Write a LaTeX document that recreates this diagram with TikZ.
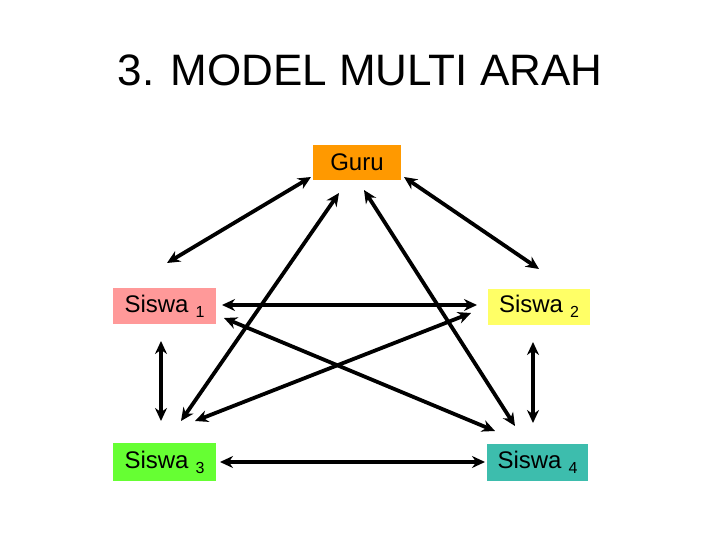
\documentclass[tikz,border=0pt]{standalone}
\usepackage{fontspec}
\setmainfont{Liberation Sans}
\usetikzlibrary{arrows.meta}
\definecolor{guruc}{HTML}{FF9900}
\definecolor{s1c}{HTML}{FF9999}
\definecolor{s2c}{HTML}{FFFF66}
\definecolor{s3c}{HTML}{66FF33}
\definecolor{s4c}{HTML}{3DBDAD}
\newcommand{\sw}[1]{Siswa\hspace{7pt}\raisebox{-5pt}{\fontsize{16}{16}\selectfont #1}}
\tikzset{
  box/.style={inner sep=0pt, minimum height=36pt, font=\fontsize{24}{24}\selectfont},
  link/.style={line width=3.8pt, {Stealth[length=13pt,width=12pt]}-{Stealth[length=13pt,width=12pt]}}
}
\begin{document}
\begin{tikzpicture}[x=1pt,y=-1pt]
\useasboundingbox[fill=white] (0,0) rectangle (720,540);
\node[anchor=base, font=\fontsize{44}{44}\selectfont] (title) at (360,86) {3. MODEL MULTI ARAH};
\node[box, fill=guruc, minimum width=88pt, minimum height=35pt] (guru) at (357,162.5) {Guru};
\node[box, fill=s1c, minimum width=103pt] (s1) at (164.5,306) {\sw{1}};
\node[box, fill=s2c, minimum width=102pt] (s2) at (539,306.5) {\sw{2}};
\node[box, fill=s3c, minimum width=103pt, minimum height=38pt] (s3) at (164.5,462) {\sw{3}};
\node[box, fill=s4c, minimum width=101pt, minimum height=37pt] (s4) at (537.5,462.5) {\sw{4}};
% endpoints
\coordinate (g1) at (311,177);
\coordinate (a1) at (167,263);
\coordinate (g2) at (404,177);
\coordinate (a2) at (539,269);
\coordinate (g3) at (339,193);
\coordinate (a3) at (181,421);
\coordinate (g4) at (364,190);
\coordinate (a4) at (515,426);
\coordinate (p1) at (222,305);
\coordinate (p2) at (477,305);
\coordinate (q1) at (224,318);
\coordinate (q4) at (495,431);
\coordinate (r3) at (195,421);
\coordinate (r2) at (471,313);
\coordinate (v1) at (161,341);
\coordinate (v3) at (161,421);
\coordinate (w2) at (533,342);
\coordinate (w4) at (533,423);
\coordinate (h3) at (220,462);
\coordinate (h4) at (485,462);
\draw[link] (g1) -- (a1);
\draw[link] (g2) -- (a2);
\draw[link] (g3) -- (a3);
\draw[link] (g4) -- (a4);
\draw[link] (p1) -- (p2);
\draw[link] (q1) -- (q4);
\draw[link] (r3) -- (r2);
\draw[link] (v1) -- (v3);
\draw[link] (w2) -- (w4);
\draw[link] (h3) -- (h4);
\end{tikzpicture}
\end{document}
